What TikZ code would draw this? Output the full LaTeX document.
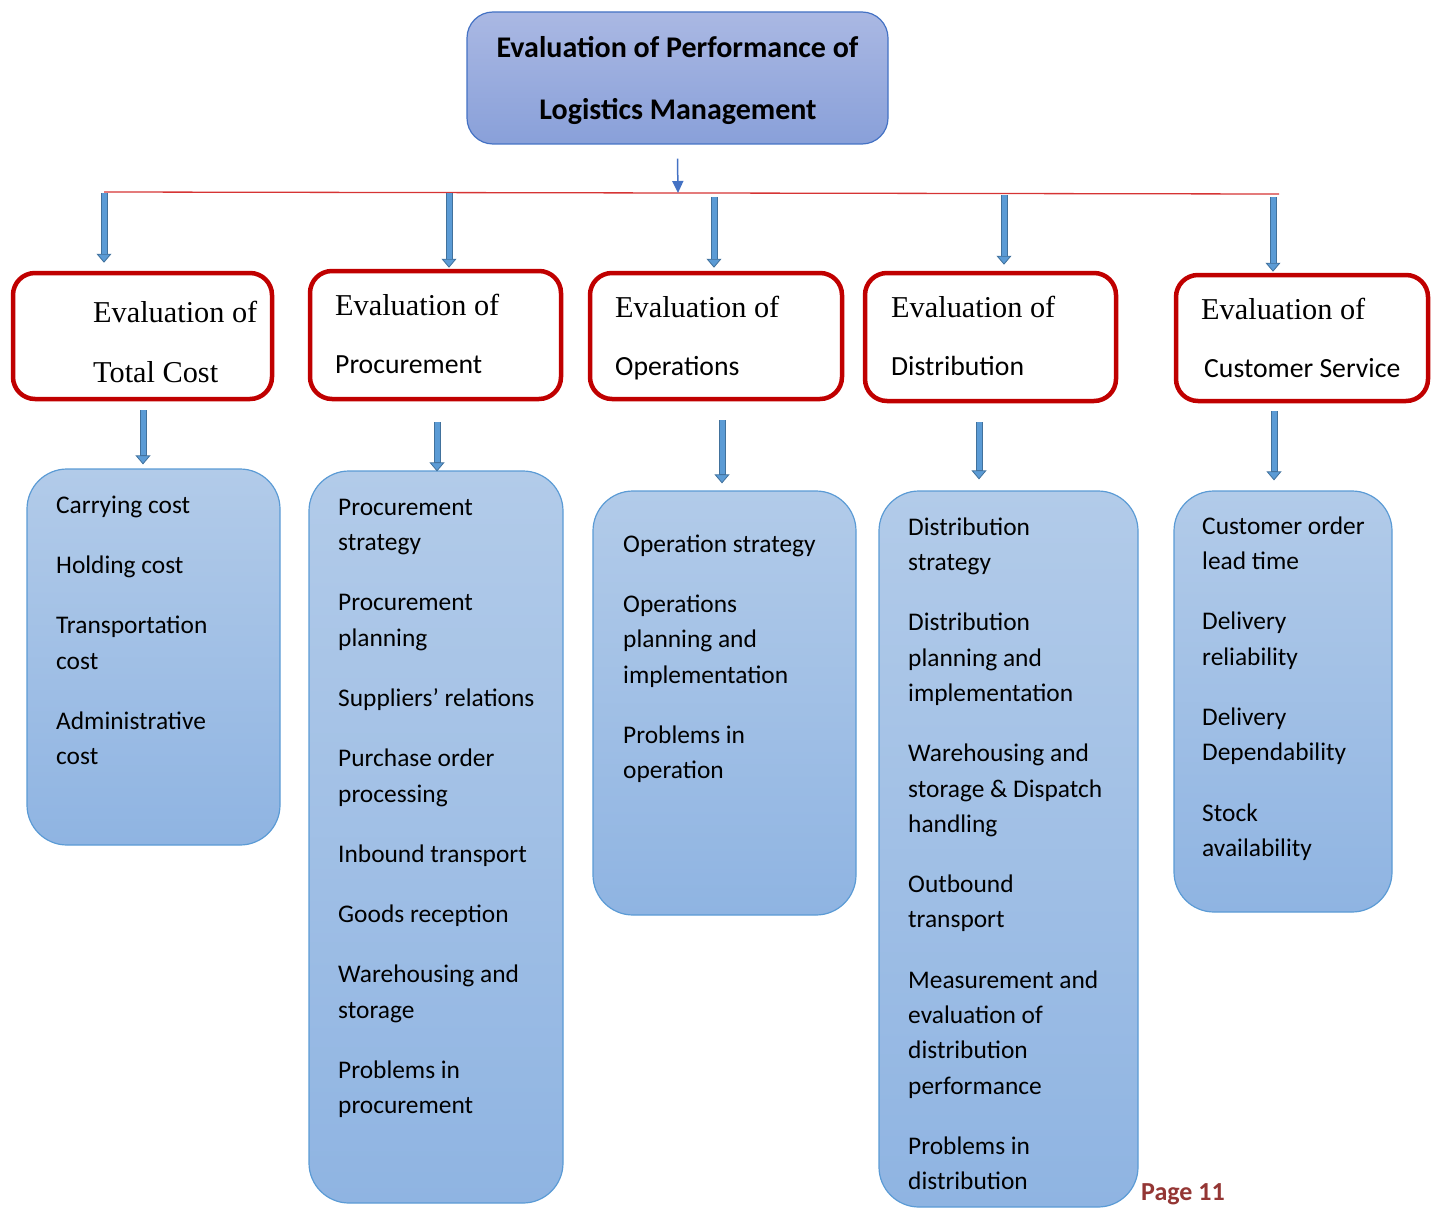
\documentclass[tikz,border=0pt]{standalone}
\usepackage{fontspec}
\setmainfont{Carlito}
\newfontfamily\timesfont{Liberation Serif}
\usetikzlibrary{arrows.meta,calc}
\definecolor{redboxc}{HTML}{C00000}
\definecolor{redlinec}{RGB}{214,52,52}
\definecolor{arrdark}{HTML}{41719C}
\definecolor{arrfill}{HTML}{5B9BD5}
\definecolor{thinarr}{HTML}{4472C4}
\definecolor{topA}{RGB}{170,184,227}
\definecolor{topB}{RGB}{137,160,217}
\definecolor{topdraw}{HTML}{4472C4}
\definecolor{bluA}{RGB}{178,203,233}
\definecolor{bluB}{RGB}{143,180,226}
\definecolor{bludraw}{HTML}{5B9BD5}
\definecolor{pagecol}{HTML}{943634}
\begin{document}
\begin{tikzpicture}[x=1pt,y=-1pt,
  redbox/.style={draw=redboxc, line width=4.5pt, rounded corners=22pt, fill=white, inner sep=0pt},
  bluebox/.style={draw=bludraw, line width=1.2pt, rounded corners=40pt, top color=bluA, bottom color=bluB, inner sep=0pt},
  topbox/.style={draw=topdraw, line width=1.2pt, rounded corners=26pt, top color=topA, bottom color=topB, inner sep=0pt},
  titletext/.style={font=\fontsize{30}{34}\selectfont\bfseries, anchor=base, inner sep=0pt},
  serifline/.style={font=\timesfont\fontsize{30.3}{34}\selectfont, anchor=base west, inner sep=0pt},
  sansline/.style={font=\fontsize{27.7}{33}\selectfont, anchor=base west, inner sep=0pt},
  listtext/.style={font=\fontsize{25.4}{35.3}\selectfont, anchor=north west, align=left, inner sep=0pt},
  blockarr/.style={draw=arrdark, line width=7pt,
    -{Triangle[length=9pt, width=15pt, line width=0.8pt, fill=arrfill]},
    postaction={draw=arrfill, line width=5pt, -, shorten >=9pt}},
  thinarrow/.style={draw=thinarr, line width=1.5pt, -{Triangle[length=12pt, width=11pt]}},
  connline/.style={draw=redlinec, line width=1.3pt}
]
\useasboundingbox (0,0) rectangle (1437,1209);

% top box
\node[topbox, minimum width=421pt, minimum height=132pt] (top) at (677.5,78) {};
\node[titletext] (t1) at (677.5,57.5) {Evaluation of Performance of};
\node[titletext] (t2) at (678,120) {Logistics Management};

% red horizontal line
\coordinate (rlL) at (104,192);
\coordinate (rlR) at (1279,194);
\draw[connline] (rlL) -- (rlR);
\coordinate (rlM) at (678,193);
\draw[thinarrow] ([yshift=-14pt]top.south) -- (rlM);

% red boxes
\node[redbox, minimum width=259pt, minimum height=126pt] (r1) at (142.5,336) {};
\node[redbox, minimum width=251pt, minimum height=128pt] (r2) at (435.5,335) {};
\node[redbox, minimum width=252pt, minimum height=126pt] (r3) at (716,336) {};
\node[redbox, minimum width=251pt, minimum height=128pt] (r4) at (990.5,337) {};
\node[redbox, minimum width=252pt, minimum height=126pt] (r5) at (1302,338) {};

\node[serifline] (r1a) at (93,322) {Evaluation of};
\node[serifline] (r1b) at (93,382) {Total Cost};
\node[serifline] (r2a) at (335,315) {Evaluation of};
\node[sansline] (r2b) at (335,373) {Procurement};
\node[serifline] (r3a) at (615,317) {Evaluation of};
\node[sansline] (r3b) at (615,375) {Operations};
\node[serifline] (r4a) at (891,317) {Evaluation of};
\node[sansline] (r4b) at (891,375) {Distribution};
\node[serifline] (r5a) at (1201,319) {Evaluation of};
\node[sansline] (r5b) at (1204,377) {Customer Service};

% blue boxes
\node[bluebox, minimum width=253pt, minimum height=376pt] (bl1) at (153.5,657) {};
\node[bluebox, minimum width=254pt, minimum height=732pt] (bl2) at (436,837) {};
\node[bluebox, minimum width=263pt, minimum height=424pt] (bl3) at (724.5,703) {};
\node[bluebox, minimum width=259pt, minimum height=716pt] (bl4) at (1008.5,849) {};
\node[bluebox, minimum width=218pt, minimum height=421pt] (bl5) at (1283,701.5) {};

\node[listtext] (l1) at (56,488.3) {\strut Carrying cost\\[25pt]Holding cost\\[25pt]Transportation\\cost\\[25pt]Administrative\\cost};
\node[listtext] (l2) at (338,490.3) {\strut Procurement\\strategy\\[25pt]Procurement\\planning\\[25pt]Suppliers’ relations\\[25pt]Purchase order\\processing\\[25pt]Inbound transport\\[25pt]Goods reception\\[25pt]Warehousing and\\storage\\[25pt]Problems in\\procurement};
\node[listtext] (l3) at (623,527.3) {\strut Operation strategy\\[25pt]Operations\\planning and\\implementation\\[25pt]Problems in\\operation};
\node[listtext] (l4) at (908,510.3) {\strut Distribution\\strategy\\[25pt]Distribution\\planning and\\implementation\\[25pt]Warehousing and\\storage \& Dispatch\\handling\\[25pt]Outbound\\transport\\[25pt]Measurement and\\evaluation of\\distribution\\performance\\[25pt]Problems in\\distribution};
\node[listtext] (l5) at (1202,509.3) {\strut Customer order\\lead time\\[25pt]Delivery\\reliability\\[25pt]Delivery\\Dependability\\[25pt]Stock\\availability};

% arrows from line to red boxes
\coordinate (a1s) at (104,193);
\coordinate (a2s) at (449,193);
\coordinate (a3s) at (714,197);
\coordinate (a4s) at (1004,195);
\coordinate (a5s) at (1273,197);
\draw[blockarr] (a1s) -- ([yshift=8pt]a1s |- r1.north);
\draw[blockarr] (a2s) -- ([yshift=1pt]a2s |- r2.north);
\draw[blockarr] (a3s) -- ([yshift=3pt]a3s |- r3.north);
\draw[blockarr] (a4s) -- ([yshift=6pt]a4s |- r4.north);
\draw[blockarr] (a5s) -- ([yshift=1pt]a5s |- r5.north);

% arrows from red boxes to blue boxes
\coordinate (b1s) at ($(r1.south)+(0.5,9)$);
\coordinate (b2s) at ($(r2.south)+(1.5,21)$);
\coordinate (b3s) at ($(r3.south)+(6,19)$);
\coordinate (b4s) at ($(r4.south)+(-11.5,19)$);
\coordinate (b5s) at ($(r5.south)+(-28,8)$);
\draw[blockarr] (b1s) -- ([yshift=4pt]b1s |- bl1.north);
\draw[blockarr] (b2s) -- ([yshift=-1pt]b2s |- bl2.north);
\draw[blockarr] (b3s) -- ([yshift=7pt]b3s |- bl3.north);
\draw[blockarr] (b4s) -- ([yshift=11pt]b4s |- bl4.north);
\draw[blockarr] (b5s) -- ([yshift=10pt]b5s |- bl5.north);

% page number
\node[font=\fontsize{26}{30}\selectfont\bfseries, text=pagecol, anchor=base west, inner sep=0pt] (pg) at (1141,1200) {Page 11};
\end{tikzpicture}
\end{document}
